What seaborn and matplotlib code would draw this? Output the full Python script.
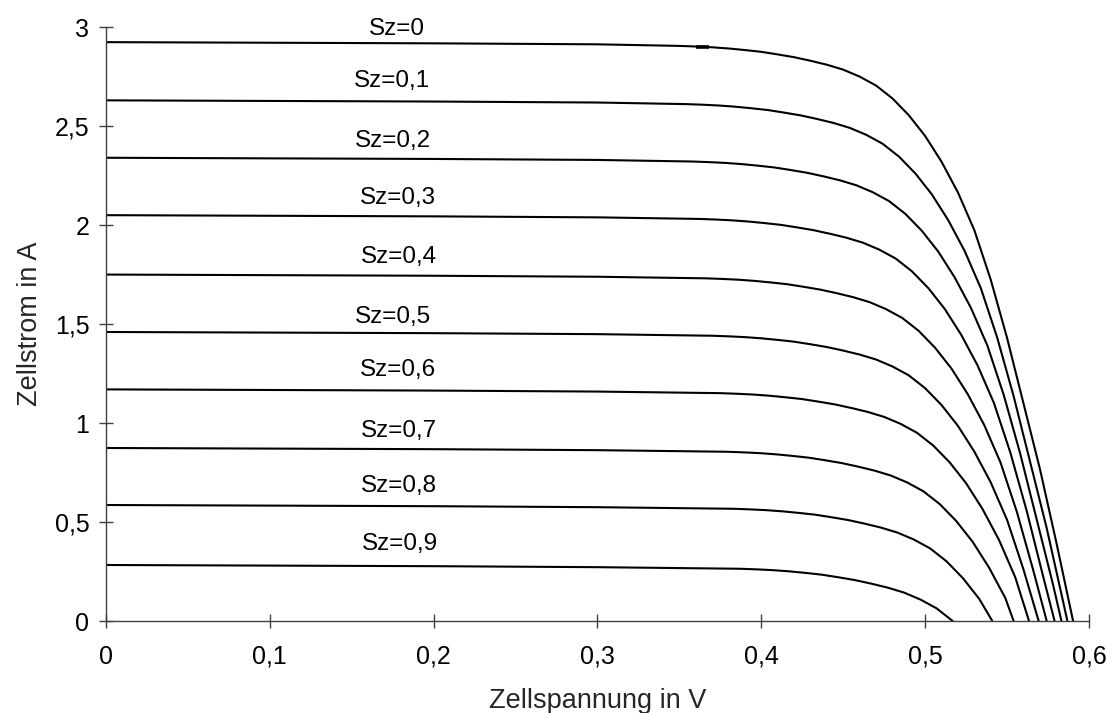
import matplotlib
matplotlib.use("Agg")
import matplotlib.pyplot as plt
import seaborn as sns
import pandas as pd

# I-U characteristics of a solar cell for different shading levels Sz
shading = ["0", "0,1", "0,2", "0,3", "0,4", "0,5", "0,6", "0,7", "0,8", "0,9"]

u_00 = [0, 0.1, 0.2, 0.3, 0.35, 0.36, 0.37, 0.38, 0.39, 0.40, 0.41, 0.42, 0.43, 0.44,
        0.45, 0.46, 0.47, 0.48, 0.49, 0.50, 0.51, 0.52, 0.53, 0.54, 0.55, 0.56,
        0.57, 0.58, 0.5903]
i_00 = [2.924, 2.921, 2.918, 2.913, 2.905, 2.902, 2.898, 2.892, 2.884, 2.875, 2.862,
        2.848, 2.830, 2.810, 2.785, 2.750, 2.705, 2.640, 2.555, 2.450, 2.320, 2.165,
        1.975, 1.725, 1.430, 1.100, 0.770, 0.400, 0]

u_01 = [0, 0.1, 0.2, 0.3, 0.354, 0.364, 0.374, 0.384, 0.394, 0.404, 0.414, 0.424,
        0.434, 0.444, 0.454, 0.464, 0.474, 0.484, 0.494, 0.504, 0.514, 0.524, 0.534,
        0.544, 0.554, 0.564, 0.574, 0.584, 0.5868]
i_01 = [2.630, 2.627, 2.624, 2.619, 2.611, 2.608, 2.604, 2.598, 2.590, 2.581, 2.568,
        2.554, 2.536, 2.516, 2.491, 2.456, 2.411, 2.346, 2.261, 2.156, 2.026, 1.871,
        1.681, 1.431, 1.136, 0.806, 0.476, 0.106, 0]

u_02 = [0, 0.1, 0.2, 0.3, 0.358, 0.368, 0.378, 0.388, 0.398, 0.408, 0.418, 0.428,
        0.438, 0.448, 0.458, 0.468, 0.478, 0.488, 0.498, 0.508, 0.518, 0.528, 0.538,
        0.548, 0.558, 0.568, 0.578, 0.5832]
i_02 = [2.340, 2.337, 2.334, 2.329, 2.321, 2.318, 2.314, 2.308, 2.300, 2.291, 2.278,
        2.264, 2.246, 2.226, 2.201, 2.166, 2.121, 2.056, 1.971, 1.866, 1.736, 1.581,
        1.391, 1.141, 0.846, 0.516, 0.186, 0]

u_03 = [0, 0.1, 0.2, 0.3, 0.362, 0.372, 0.382, 0.392, 0.402, 0.412, 0.422, 0.432,
        0.442, 0.452, 0.462, 0.472, 0.482, 0.492, 0.502, 0.512, 0.522, 0.532, 0.542,
        0.552, 0.562, 0.572, 0.579]
i_03 = [2.050, 2.047, 2.044, 2.039, 2.031, 2.028, 2.024, 2.018, 2.010, 2.001, 1.988,
        1.974, 1.956, 1.936, 1.911, 1.876, 1.831, 1.766, 1.681, 1.576, 1.446, 1.291,
        1.101, 0.851, 0.556, 0.226, 0]

u_04 = [0, 0.1, 0.2, 0.3, 0.366, 0.376, 0.386, 0.396, 0.406, 0.416, 0.426, 0.436,
        0.446, 0.456, 0.466, 0.476, 0.486, 0.496, 0.506, 0.516, 0.526, 0.536, 0.546,
        0.556, 0.566, 0.5742]
i_04 = [1.750, 1.747, 1.744, 1.739, 1.731, 1.728, 1.724, 1.718, 1.710, 1.701, 1.688,
        1.674, 1.656, 1.636, 1.611, 1.576, 1.531, 1.466, 1.381, 1.276, 1.146, 0.991,
        0.801, 0.551, 0.256, 0]

u_05 = [0, 0.1, 0.2, 0.3, 0.370, 0.380, 0.390, 0.400, 0.410, 0.420, 0.430, 0.440,
        0.450, 0.460, 0.470, 0.480, 0.490, 0.500, 0.510, 0.520, 0.530, 0.540, 0.550,
        0.560, 0.5693]
i_05 = [1.460, 1.457, 1.454, 1.449, 1.441, 1.438, 1.434, 1.428, 1.420, 1.411, 1.398,
        1.384, 1.366, 1.346, 1.321, 1.286, 1.241, 1.176, 1.091, 0.986, 0.856, 0.701,
        0.511, 0.261, 0]

u_06 = [0, 0.1, 0.2, 0.3, 0.375, 0.385, 0.395, 0.405, 0.415, 0.425, 0.435, 0.445,
        0.455, 0.465, 0.475, 0.485, 0.495, 0.505, 0.515, 0.525, 0.535, 0.545, 0.555,
        0.5634]
i_06 = [1.170, 1.167, 1.164, 1.159, 1.151, 1.148, 1.144, 1.138, 1.130, 1.121, 1.108,
        1.094, 1.076, 1.056, 1.031, 0.996, 0.951, 0.886, 0.801, 0.696, 0.566, 0.411,
        0.221, 0]

u_07 = [0, 0.1, 0.2, 0.3, 0.379, 0.389, 0.399, 0.409, 0.419, 0.429, 0.439, 0.449,
        0.459, 0.469, 0.479, 0.489, 0.499, 0.509, 0.519, 0.529, 0.539, 0.549, 0.554]
i_07 = [0.874, 0.871, 0.868, 0.863, 0.855, 0.852, 0.848, 0.842, 0.834, 0.825, 0.812,
        0.798, 0.780, 0.760, 0.735, 0.700, 0.655, 0.590, 0.505, 0.400, 0.270, 0.115, 0]

u_08 = [0, 0.1, 0.2, 0.3, 0.383, 0.393, 0.403, 0.413, 0.423, 0.433, 0.443, 0.453,
        0.463, 0.473, 0.483, 0.493, 0.503, 0.513, 0.523, 0.533, 0.541]
i_08 = [0.586, 0.583, 0.580, 0.575, 0.567, 0.564, 0.560, 0.554, 0.546, 0.537, 0.524,
        0.510, 0.492, 0.472, 0.447, 0.412, 0.367, 0.302, 0.217, 0.112, 0]

u_09 = [0, 0.1, 0.2, 0.3, 0.387, 0.397, 0.407, 0.417, 0.427, 0.437, 0.447, 0.457,
        0.467, 0.477, 0.487, 0.497, 0.507, 0.5168]
i_09 = [0.283, 0.280, 0.277, 0.272, 0.264, 0.261, 0.257, 0.251, 0.243, 0.234, 0.221,
        0.207, 0.189, 0.169, 0.144, 0.109, 0.064, 0]

# short thicker stroke on the Sz=0 curve
mark_u = [0.360, 0.368]
mark_i = [2.899, 2.899]

x_ticks = [0, 0.1, 0.2, 0.3, 0.4, 0.5, 0.6]
x_ticklabels = ["0", "0,1", "0,2", "0,3", "0,4", "0,5", "0,6"]
y_ticks = [0, 0.5, 1, 1.5, 2, 2.5, 3]
y_ticklabels = ["0", "0,5", "1", "1,5", "2", "2,5", "3"]

curves_u = [u_00, u_01, u_02, u_03, u_04, u_05, u_06, u_07, u_08, u_09]
curves_i = [i_00, i_01, i_02, i_03, i_04, i_05, i_06, i_07, i_08, i_09]

rows = []
for sz, us, ii in zip(shading, curves_u, curves_i):
    for u, i in zip(us, ii):
        rows.append({"Sz": sz, "U": u, "I": i})
df = pd.DataFrame(rows)

sns.set_theme(style="white")
plt.rcParams["font.family"] = ["Liberation Sans", "DejaVu Sans"]

fig = plt.figure(figsize=(11.12, 7.13), dpi=100)
ax = fig.add_axes([0.0953, 0.129, 0.884, 0.833])

sns.lineplot(data=df, x="U", y="I", hue="Sz", hue_order=shading,
             palette={s: "black" for s in shading}, estimator=None, sort=False,
             legend=False, linewidth=1.5, ax=ax)
ax.plot(mark_u, mark_i, color="black", linewidth=2.6, solid_capstyle="butt")

# curve labels (placed just above each curve)
label_x = [0.1776, 0.1746, 0.1752, 0.1783, 0.1789, 0.1752, 0.1783, 0.1789, 0.1789, 0.1795]
label_y = [2.96, 2.695, 2.395, 2.106, 1.808, 1.507, 1.237, 0.931, 0.653, 0.359]
for sz, lx, ly in zip(shading, label_x, label_y):
    ax.text(lx, ly, f"Sz={sz}", ha="center", va="baseline", fontsize=17.5,
            color="black", clip_on=False)

ax.set_xlim(0, 0.6)
ax.set_ylim(0, 3)
ax.set_xticks(x_ticks)
ax.set_xticklabels(x_ticklabels)
ax.set_yticks(y_ticks)
ax.set_yticklabels(y_ticklabels)
ax.tick_params(axis="both", which="major", bottom=True, left=True,
               direction="inout", length=10, width=1, color="#404040",
               labelsize=18, labelcolor="black")
ax.tick_params(axis="x", pad=12)
ax.tick_params(axis="y", pad=7)
ax.set_xlabel("Zellspannung in V", fontsize=19.5, labelpad=14)
ax.set_ylabel("Zellstrom in A", fontsize=19.5, labelpad=8)

for side in ("top", "right"):
    ax.spines[side].set_visible(False)
for side in ("left", "bottom"):
    ax.spines[side].set_color("#404040")
    ax.spines[side].set_linewidth(1.0)
ax.grid(False)
ax.set_facecolor("white")
fig.patch.set_facecolor("white")

fig.savefig("out.png", dpi=100, facecolor="white")
